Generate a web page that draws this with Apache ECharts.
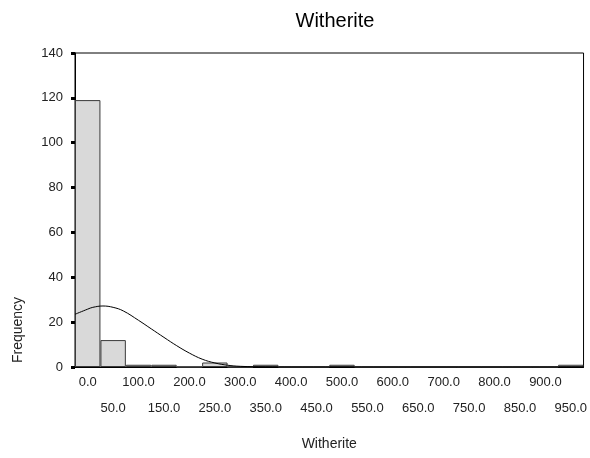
<!DOCTYPE html>
<html>
<head>
<meta charset="utf-8">
<script src="https://cdn.jsdelivr.net/npm/echarts@6/dist/echarts.min.js"></script>
<style>
  html, body { margin: 0; padding: 0; background: #fff; }
  #main { width: 590px; height: 458px; }
</style>
</head>
<body>
<div id="main"></div>
<script>
// bin centres (width 50)
const categories = ['0.0', '50.0', '100.0', '150.0', '200.0', '250.0', '300.0', '350.0', '400.0', '450.0',
  '500.0', '550.0', '600.0', '650.0', '700.0', '750.0', '800.0', '850.0', '900.0', '950.0']
const counts = [119, 12, 1, 1, 0, 2, 0, 1, 0, 0, 1, 0, 0, 0, 0, 0, 0, 0, 0, 1]

// normal curve
const curveX = [-25, 0, 10, 30, 50, 70, 100, 125, 150, 175, 200, 225, 250, 275, 300, 350, 400, 975]
const curveY = [23.5, 25.8, 26.6, 27.2, 26.6, 25.0, 20.8, 17.0, 13.2, 9.5, 6.2, 3.5, 1.8, 0.8, 0.3, 0.05, 0, 0]

const yTicks = [0, 20, 40, 60, 80, 100, 120, 140]

const chart = echarts.init(document.getElementById('main'))

const font = 'Liberation Sans, Arial, sans-serif'

const option = {
  animation: false,
  title: {
    text: 'Witherite',
    left: 330,
    top: 6,
    textAlign: 'center',
    textStyle: { fontFamily: font, fontSize: 20, fontWeight: 'normal', color: '#000' }
  },
  grid: {
    left: 75, right: 3, top: 53, bottom: 91,
    show: true, borderColor: '#000', borderWidth: 1, backgroundColor: 'transparent'
  },
  xAxis: [
    {
      type: 'category',
      data: categories,
      boundaryGap: true,
      axisLine: { lineStyle: { color: '#000', width: 1 } },
      axisTick: { alignWithLabel: true, length: 4, lineStyle: { color: '#000', width: 3 } },
      axisLabel: {
        interval: 0,
        margin: 2,
        color: '#222',
        fontFamily: font,
        fontSize: 13,
        lineHeight: 26,
        formatter: function (v, i) { return i % 2 === 0 ? v : '\n' + v }
      },
      name: 'Witherite',
      nameLocation: 'middle',
      nameGap: 70,
      nameTextStyle: { fontFamily: font, fontSize: 14, color: '#222' }
    },
    {
      type: 'value',
      min: -25,
      max: 975,
      show: false
    }
  ],
  yAxis: {
    type: 'value',
    min: yTicks[0],
    max: yTicks[yTicks.length - 1],
    interval: 20,
    splitLine: { show: false },
    axisLine: { show: true, onZero: false, lineStyle: { color: '#000', width: 1 } },
    axisTick: { show: true, length: 4, lineStyle: { color: '#000', width: 3 } },
    axisLabel: { margin: 12, color: '#222', fontFamily: font, fontSize: 13 }
  },
  graphic: [
    {
      type: 'text',
      x: 11,
      y: 330,
      rotation: Math.PI / 2,
      style: {
        text: 'Frequency',
        font: '14px ' + font,
        fill: '#222',
        align: 'center',
        verticalAlign: 'top'
      }
    }
  ],
  series: [
    {
      type: 'bar',
      xAxisIndex: 0,
      data: counts,
      barCategoryGap: 0,
      itemStyle: { color: '#d9d9d9', borderColor: '#3a3a3a', borderWidth: 1 }
    },
    {
      type: 'line',
      xAxisIndex: 1,
      data: curveX.map((x, i) => [x, curveY[i]]),
      smooth: 0.4,
      symbol: 'none',
      lineStyle: { color: '#000', width: 1 },
      z: 3
    }
  ]
}

chart.setOption(option)
</script>
</body>
</html>
